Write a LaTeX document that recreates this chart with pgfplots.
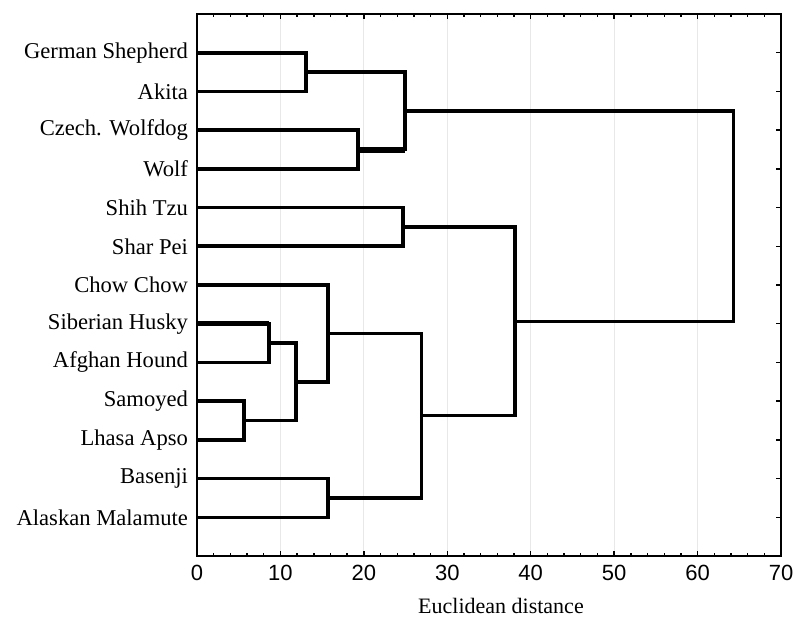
\documentclass[border=0pt]{standalone}
\usepackage{fontspec}
\setmainfont{Liberation Serif}
\setsansfont{Liberation Sans}
\usepackage{pgfplots}
\pgfplotsset{compat=1.18}
\begin{document}
\begin{tikzpicture}
\begin{axis}[
  scale only axis,
  width=292pt, height=271pt,
  xmin=0, xmax=70, ymin=0, ymax=14,
  y dir=reverse,
  xtick={0,10,...,70},
  minor x tick num=4,
  ytick={1,...,13},
  yticklabels={German Shepherd,Akita,Czech. Wolfdog,Wolf,Shih Tzu,Shar Pei,Chow Chow,Siberian Husky,Afghan Hound,Samoyed,Lhasa Apso,Basenji,Alaskan Malamute},
  tick align=inside,
  xtick pos=both, ytick pos=both,
  major tick length=2.5pt, minor tick length=1.5pt,
  tick style={black, line width=0.7pt},
  axis line style={black, line width=0.8pt},
  xmajorgrids, grid style={gray!18, line width=0.6pt},
  /pgf/number format/assume math mode=true,
  xticklabel style={font=\fontsize{11}{13}\selectfont\sffamily, yshift=-1pt},
  yticklabel style={font=\fontsize{11.3}{13}\selectfont, xshift=-1pt},
  xlabel={Euclidean distance},
  xlabel style={font=\fontsize{11}{13}\selectfont, at={(ticklabel cs:0.5205)}, anchor=near ticklabel, yshift=-2pt},
  cycle list={{black,solid,mark=none}},
  every axis plot/.append style={line width=1.8pt, line join=miter, line cap=rect},
]
% A: German Shepherd + Akita
\addplot coordinates {(0,1) (13.1,1) (13.1,2) (0,2)};
% B: Czech. Wolfdog + Wolf
\addplot coordinates {(0,3) (19.3,3) (19.3,4) (0,4)};
% C: A + B
\addplot coordinates {(13.1,1.5) (24.9,1.5) (24.9,3.5) (19.3,3.5)};
% D: Shih Tzu + Shar Pei
\addplot coordinates {(0,5) (24.7,5) (24.7,6) (0,6)};
% E: Siberian Husky + Afghan Hound
\addplot coordinates {(0,8) (8.6,8) (8.6,9) (0,9)};
% F: Samoyed + Lhasa Apso
\addplot coordinates {(0,10) (5.6,10) (5.6,11) (0,11)};
% G: E + F
\addplot coordinates {(8.6,8.5) (11.9,8.5) (11.9,10.5) (5.6,10.5)};
% H: Chow Chow + G
\addplot coordinates {(0,7) (15.7,7) (15.7,9.5) (11.9,9.5)};
% I: Basenji + Alaskan Malamute
\addplot coordinates {(0,12) (15.7,12) (15.7,13) (0,13)};
% J: H + I
\addplot coordinates {(15.7,8.25) (26.9,8.25) (26.9,12.5) (15.7,12.5)};
% K: D + J
\addplot coordinates {(24.7,5.5) (38.1,5.5) (38.1,10.375) (26.9,10.375)};
% L: C + K
\addplot coordinates {(24.9,2.5) (64.3,2.5) (64.3,7.9375) (38.1,7.9375)};
% slightly heavier segments as in the reference
\addplot[black, line width=3pt, line cap=butt] coordinates {(19.3,3.5) (24.9,3.5)};
\addplot[black, line width=2.6pt, line cap=butt] coordinates {(0,8) (8.6,8)};
\end{axis}
\path (current axis.south west) ++(-98.5pt,-31.5pt) coordinate (bl);
\path (current axis.north east) ++(11pt,7pt) coordinate (tr);
\path (bl) rectangle (tr);
\end{tikzpicture}
\end{document}
